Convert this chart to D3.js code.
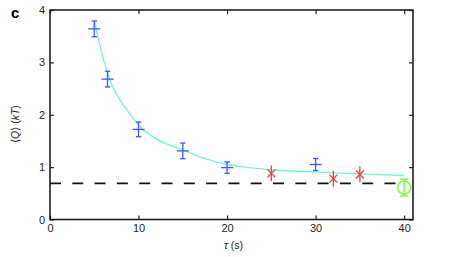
<!DOCTYPE html>
<html><head><meta charset="utf-8">
<script src="https://cdn.jsdelivr.net/npm/d3@7"></script>
<style>body{margin:0;background:#fff}svg{display:block}</style>
</head><body>
<script>
// ---- data ----
const xTicks = [0, 10, 20, 30, 40];
const yTicks = [0, 1, 2, 3, 4];
// blue points: tau, <Q>, error
const blueTau = [5, 6.5, 10, 15, 20, 30];
const blueQ   = [3.64, 2.68, 1.72, 1.31, 0.99, 1.05];
const blueErr = [0.15, 0.15, 0.14, 0.15, 0.11, 0.115];
// red points
const redTau = [25, 32, 35];
const redQ   = [0.88, 0.78, 0.86];
const redErr = [0.15, 0.15, 0.15];
// green point
const greenTau = [40];
const greenQ   = [0.61];
const greenErr = [0.16];
// fitted curve samples
const curveTau = [5, 6, 6.5, 7, 8, 9, 10, 12, 15, 17, 20, 22.5, 25, 30, 35, 40];
const curveQ   = [3.80, 3.08, 2.80, 2.57, 2.26, 2.02, 1.80, 1.54, 1.33, 1.19, 1.05, 0.99, 0.95, 0.91, 0.87, 0.84];
// dashed reference level
const refLevel = 0.69;

const W = 462, H = 257;
const svg = d3.select("body").append("svg").attr("width", W).attr("height", H)
  .style("font-family", "'Liberation Sans', Arial, sans-serif");

const L = 50, R = 413, T = 10, B = 219.5;
const x = d3.scaleLinear().domain([0, 41]).range([L, R]);
const y = d3.scaleLinear().domain([0, 4]).range([B, T]);

// dashed line
svg.append("line").attr("x1", x(0)).attr("x2", x(40.2)).attr("y1", y(refLevel)).attr("y2", y(refLevel))
  .attr("stroke", "#111").attr("stroke-width", 1.8).attr("stroke-dasharray", "11,11.3");

// curve
const line = d3.line().x((d, i) => x(curveTau[i])).y((d, i) => y(curveQ[i])).curve(d3.curveMonotoneX);
svg.append("path").attr("d", line(curveTau)).attr("fill", "none")
  .attr("stroke", "#6cf7dc").attr("stroke-width", 1.3);

// blue
const blue = "#3f55ff";
const gb = svg.append("g").attr("stroke", blue).attr("stroke-width", 1.3).attr("fill", "none");
blueTau.forEach((t, i) => {
  const cx = x(t), cy = y(blueQ[i]), y1 = y(blueQ[i] + blueErr[i]), y2 = y(blueQ[i] - blueErr[i]);
  gb.append("line").attr("x1", cx).attr("x2", cx).attr("y1", y1).attr("y2", y2);
  gb.append("line").attr("x1", cx - 2.7).attr("x2", cx + 2.7).attr("y1", y1).attr("y2", y1);
  gb.append("line").attr("x1", cx - 2.7).attr("x2", cx + 2.7).attr("y1", y2).attr("y2", y2);
  gb.append("line").attr("x1", cx - 6).attr("x2", cx + 6).attr("y1", cy).attr("y2", cy);
});

// red
const red = "#ff3340";
const gr = svg.append("g").attr("stroke", red).attr("stroke-width", 1.3).attr("fill", "none");
redTau.forEach((t, i) => {
  const cx = x(t), cy = y(redQ[i]), y1 = y(redQ[i] + redErr[i]), y2 = y(redQ[i] - redErr[i]);
  gr.append("line").attr("x1", cx).attr("x2", cx).attr("y1", y1).attr("y2", y2);
  gr.append("line").attr("x1", cx - 4).attr("x2", cx + 4).attr("y1", cy - 4).attr("y2", cy + 4);
  gr.append("line").attr("x1", cx - 4).attr("x2", cx + 4).attr("y1", cy + 4).attr("y2", cy - 4);
});

// green
const green = "#7dff3a";
const gg = svg.append("g").attr("stroke", green).attr("stroke-width", 1.5).attr("fill", "none");
greenTau.forEach((t, i) => {
  const cx = x(t), cy = y(greenQ[i]), y1 = y(greenQ[i] + greenErr[i]), y2 = y(greenQ[i] - greenErr[i]);
  gg.append("line").attr("x1", cx).attr("x2", cx).attr("y1", y1).attr("y2", y2);
  gg.append("line").attr("x1", cx - 4).attr("x2", cx + 4).attr("y1", y1).attr("y2", y1);
  gg.append("line").attr("x1", cx - 4).attr("x2", cx + 4).attr("y1", y2).attr("y2", y2);
  gg.append("circle").attr("cx", cx).attr("cy", cy).attr("r", 6.5);
});

// axes
function styleAxis(g) {
  g.select(".domain").remove();
  g.selectAll(".tick line").attr("stroke", "#222").attr("stroke-width", 1.2);
  g.selectAll("text").attr("fill", "#222").style("font-size", "11px");
}
const fmt = d3.format("d");
svg.append("g").attr("transform", `translate(0,${B})`)
  .call(d3.axisBottom(x).tickValues(xTicks).tickFormat(fmt).tickSizeInner(-4).tickSizeOuter(0).tickPadding(5)).call(styleAxis);
svg.append("g").attr("transform", `translate(0,${T})`)
  .call(d3.axisTop(x).tickValues(xTicks).tickSizeInner(-4).tickSizeOuter(0).tickFormat("")).call(styleAxis);
svg.append("g").attr("transform", `translate(${L},0)`)
  .call(d3.axisLeft(y).tickValues(yTicks).tickFormat(fmt).tickSizeInner(-4).tickSizeOuter(0).tickPadding(5)).call(styleAxis);
svg.append("g").attr("transform", `translate(${R},0)`)
  .call(d3.axisRight(y).tickValues(yTicks).tickSizeInner(-4).tickSizeOuter(0).tickFormat("")).call(styleAxis);

svg.append("rect").attr("x", L).attr("y", T).attr("width", R - L).attr("height", B - T)
  .attr("fill", "none").attr("stroke", "#111").attr("stroke-width", 1.5);

// labels
svg.append("text").attr("x", (L + R) / 2 + 2).attr("y", 249).attr("text-anchor", "middle")
  .style("font-size", "10.5px").attr("fill", "#222")
  .html('<tspan font-style="italic">τ</tspan> (s)');
svg.append("text").attr("transform", `translate(19,124) rotate(-90)`).attr("text-anchor", "middle")
  .style("font-size", "10.5px").attr("fill", "#222")
  .html('⟨<tspan font-style="italic">Q</tspan>⟩ (<tspan font-style="italic">kT</tspan>)');
svg.append("text").attr("x", 11).attr("y", 18).style("font-size", "15px").style("font-weight", "bold")
  .attr("fill", "#000").text("c");
</script>
</body></html>
